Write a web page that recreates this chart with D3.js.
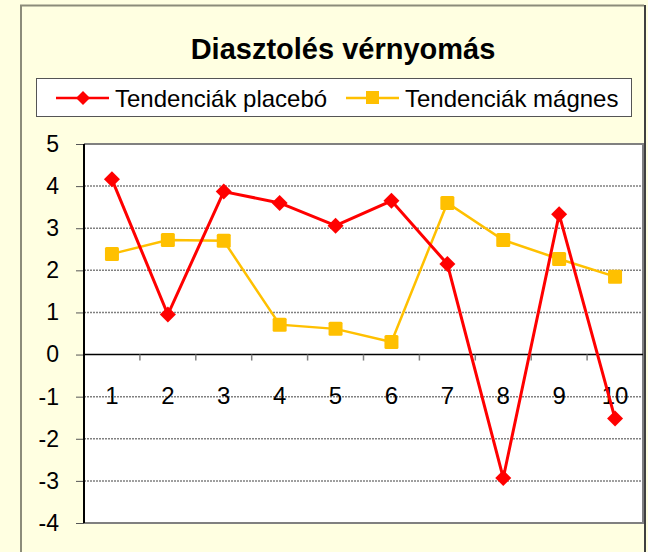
<!DOCTYPE html>
<html>
<head>
<meta charset="utf-8">
<script src="https://cdn.jsdelivr.net/npm/d3@7"></script>
<style>
  body { margin: 0; background: #FFFFE1; }
  svg { display: block; font-family: Arial, "Liberation Sans", sans-serif; }
</style>
</head>
<body>
<svg id="chart" width="648" height="552"></svg>
<script>
var categories = ["1", "2", "3", "4", "5", "6", "7", "8", "9", "10"];
var placebo = [4.16, 0.95, 3.87, 3.6, 3.06, 3.65, 2.15, -2.93, 3.33, -1.52];
var magnes = [2.39, 2.72, 2.7, 0.71, 0.61, 0.3, 3.6, 2.72, 2.27, 1.85];
var yTicks = [-4, -3, -2, -1, 0, 1, 2, 3, 4, 5];
var seriesNames = ["Tendenciák placebó", "Tendenciák mágnes"];
var titleText = "Diasztolés vérnyomás";

var svg = d3.select("#chart");
var plot = { left: 84, right: 643, top: 144, bottom: 523 };

// outer chart frame
svg.append("rect").attr("x", 0).attr("y", 0).attr("width", 648).attr("height", 552).attr("fill", "#FFFFE1");
svg.append("path")
    .attr("d", "M21,552 V5.5 H644")
    .attr("fill", "none").attr("stroke", "#8c8c7a").attr("stroke-width", 2);
svg.append("line").attr("x1", 645).attr("x2", 645).attr("y1", 5).attr("y2", 552)
    .attr("stroke", "#404040").attr("stroke-width", 2);

// title
svg.append("text").attr("x", 343).attr("y", 59).attr("text-anchor", "middle")
    .attr("font-size", 29).attr("font-weight", "bold").attr("fill", "#000").text(titleText);

var x = d3.scaleBand().domain(categories).range([plot.left, plot.right]);
var y = d3.scaleLinear().domain([-4, 5]).range([plot.bottom, plot.top]);

// plot area
svg.append("rect").attr("x", plot.left).attr("y", plot.top)
    .attr("width", plot.right - plot.left).attr("height", plot.bottom - plot.top)
    .attr("fill", "#fff");

// gridlines
svg.append("g").selectAll("line").data(yTicks.filter(function (d) { return d !== 0 && d !== 5 && d !== -4; }))
    .enter().append("line")
    .attr("x1", plot.left).attr("x2", plot.right)
    .attr("y1", function (d) { return y(d); }).attr("y2", function (d) { return y(d); })
    .attr("stroke", "#808080").attr("stroke-width", 1.5).attr("stroke-dasharray", "2,1");

// plot borders
svg.append("path")
    .attr("d", "M" + plot.left + "," + plot.top + " H" + plot.right + " V" + plot.bottom + " H" + plot.left)
    .attr("fill", "none").attr("stroke", "#808080").attr("stroke-width", 2);

// y axis
var yAxis = svg.append("g").attr("transform", "translate(" + plot.left + ",0)")
    .call(d3.axisLeft(y).tickValues(yTicks).tickSize(8).tickPadding(17).tickFormat(d3.format("d")));
yAxis.select(".domain").remove();
yAxis.selectAll(".tick line").attr("stroke", "#555").attr("stroke-width", 1);
yAxis.selectAll(".tick text").attr("font-size", 23).attr("fill", "#000")
    .attr("font-family", "Arial, 'Liberation Sans', sans-serif")
    .text(function (d) { return d < 0 ? "-" + Math.abs(d) : d; });
svg.append("line").attr("x1", plot.left).attr("x2", plot.left)
    .attr("y1", plot.top).attr("y2", plot.bottom)
    .attr("stroke", "#000").attr("stroke-width", 2);

// zero line (category axis)
svg.append("line").attr("x1", plot.left).attr("x2", plot.right)
    .attr("y1", y(0)).attr("y2", y(0)).attr("stroke", "#000").attr("stroke-width", 1.5);
svg.append("g").selectAll("line").data(categories.slice(1))
    .enter().append("line")
    .attr("x1", function (d) { return x(d); }).attr("x2", function (d) { return x(d); })
    .attr("y1", y(0)).attr("y2", y(0) + 6)
    .attr("stroke", "#808080").attr("stroke-width", 1.5);
svg.append("g").selectAll("text").data(categories)
    .enter().append("text")
    .attr("x", function (d) { return x(d) + x.bandwidth() / 2; })
    .attr("y", y(0) + 49)
    .attr("text-anchor", "middle").attr("font-size", 24).attr("fill", "#000")
    .text(function (d) { return d; });

// series
var cx = function (d, i) { return x(categories[i]) + x.bandwidth() / 2; };
var line = d3.line().x(cx).y(function (d) { return y(d); });

svg.append("path").datum(magnes).attr("d", line)
    .attr("fill", "none").attr("stroke", "#FFC000").attr("stroke-width", 2.5);
svg.append("g").selectAll("rect").data(magnes).enter().append("rect")
    .attr("x", function (d, i) { return cx(d, i) - 7; })
    .attr("y", function (d) { return y(d) - 7; })
    .attr("width", 14).attr("height", 14).attr("rx", 1.5)
    .attr("fill", "#FFC000");

svg.append("path").datum(placebo).attr("d", line)
    .attr("fill", "none").attr("stroke", "#FF0000").attr("stroke-width", 3);
svg.append("g").selectAll("path").data(placebo).enter().append("path")
    .attr("transform", function (d, i) { return "translate(" + cx(d, i) + "," + y(d) + ")"; })
    .attr("d", "M0,-8 L8,0 L0,8 L-8,0 Z")
    .attr("fill", "#FF0000");

// legend
var lg = svg.append("g");
lg.append("rect").attr("x", 36.5).attr("y", 78.5).attr("width", 595).attr("height", 38)
    .attr("fill", "#fff").attr("stroke", "#555").attr("stroke-width", 1);
var legendItems = [
    { name: seriesNames[0], color: "#FF0000", x: 56, marker: "diamond" },
    { name: seriesNames[1], color: "#FFC000", x: 346, marker: "square" }
];
legendItems.forEach(function (it) {
    lg.append("line").attr("x1", it.x).attr("x2", it.x + 53).attr("y1", 98).attr("y2", 98)
        .attr("stroke", it.color).attr("stroke-width", 2.5);
    if (it.marker === "diamond") {
        lg.append("path").attr("transform", "translate(" + (it.x + 27) + ",98)")
            .attr("d", "M0,-7 L7,0 L0,7 L-7,0 Z").attr("fill", it.color);
    } else {
        lg.append("rect").attr("x", it.x + 20).attr("y", 91).attr("width", 13).attr("height", 13)
            .attr("fill", it.color);
    }
    lg.append("text").attr("x", it.x + 59).attr("y", 106.5).attr("font-size", 24)
        .attr("fill", "#000").text(it.name);
});
</script>
</body>
</html>
